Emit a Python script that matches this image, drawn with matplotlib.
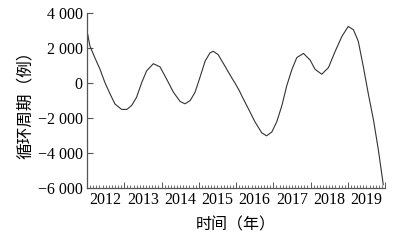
# cycle component chart

import matplotlib
matplotlib.use("Agg")
import matplotlib.pyplot as plt
import numpy as np
from matplotlib.ticker import FixedLocator, FuncFormatter

# decimal year positions
t = [2012.02, 2012.08, 2012.21, 2012.35, 2012.48, 2012.62, 2012.75, 2012.93,
     2013.07, 2013.20, 2013.33, 2013.47, 2013.60, 2013.78, 2013.96,
     2014.14, 2014.32, 2014.50, 2014.63, 2014.77, 2014.90,
     2015.03, 2015.17, 2015.30, 2015.39, 2015.52, 2015.70, 2015.88, 2015.97,
     2016.09, 2016.15, 2016.33, 2016.51, 2016.69, 2016.82, 2016.96,
     2017.09, 2017.23, 2017.36, 2017.50, 2017.63, 2017.81, 2017.99,
     2018.12, 2018.30, 2018.48, 2018.66, 2018.84,
     2019.01, 2019.15, 2019.28, 2019.42, 2019.55, 2019.69, 2019.82, 2019.95]
# cyclical component (cases)
cycle = [2770, 2100, 1450, 780, 30, -630, -1200, -1510,
         -1510, -1280, -820, 30, 690, 1100, 920,
         210, -530, -1060, -1190, -1000, -530,
         310, 1250, 1720, 1810, 1620, 970, 310, 0,
         -450, -720, -1470, -2230, -2850, -3020, -2800,
         -2230, -1290, -160, 780, 1450, 1690, 1300,
         780, 500, 880, 1810, 2660,
         3230, 3040, 2380, 880, -630, -2140, -3840, -5810]

years = [2012, 2013, 2014, 2015, 2016, 2017, 2018, 2019]
y_ticks = [-6000, -4000, -2000, 0, 2000, 4000]

serif = ['Liberation Serif', 'Noto Sans CJK SC']
cjk = ['Noto Sans CJK SC', 'DejaVu Sans']

fig = plt.figure(figsize=(4.15, 2.4), dpi=100)
ax = fig.add_axes([0.2096, 0.2167, 0.7184, 0.7293])

ax.plot(t, cycle, color='#333333', linewidth=0.8)

ax.set_xlim(2012, 2020)
ax.set_ylim(-6000, 4000)

for s in ['top', 'right']:
    ax.spines[s].set_visible(False)
for s in ['left', 'bottom']:
    ax.spines[s].set_color('#555555')
    ax.spines[s].set_linewidth(0.9)

# y axis
ax.yaxis.set_major_locator(FixedLocator(y_ticks))
ax.yaxis.set_major_formatter(FuncFormatter(
    lambda v, p: ('\u2212' if v < 0 else '') + f"{abs(int(v)):,}".replace(',', ' ')))
ax.tick_params(axis='y', direction='in', length=4, width=0.8, color='#555555', pad=3)
for lab in ax.get_yticklabels():
    lab.set_family(serif)
    lab.set_fontsize(11.5)

# x axis: year boundaries + monthly minor ticks, labels at mid-year
ax.xaxis.set_major_locator(FixedLocator(years + [2020]))
ax.xaxis.set_minor_locator(FixedLocator(np.arange(2012, 2020.01, 1 / 12)))
ax.tick_params(axis='x', which='major', direction='in', length=4, width=0.7,
               color='#555555', labelbottom=False)
ax.tick_params(axis='x', which='minor', direction='in', length=2, width=0.6,
               color='#555555')

sec = ax.secondary_xaxis('bottom')
sec.set_xticks([y + 0.5 for y in years])
sec.set_xticklabels([str(y) for y in years], family=serif, fontsize=11.5)
sec.tick_params(length=0, pad=3)
sec.spines['bottom'].set_visible(False)

ax.set_xlabel('时间（年）', family=cjk, fontsize=11.5, labelpad=17)
ax.set_ylabel('循环周期（例）', family=cjk, fontsize=12, labelpad=3)

fig.savefig('out.png', dpi=100)
